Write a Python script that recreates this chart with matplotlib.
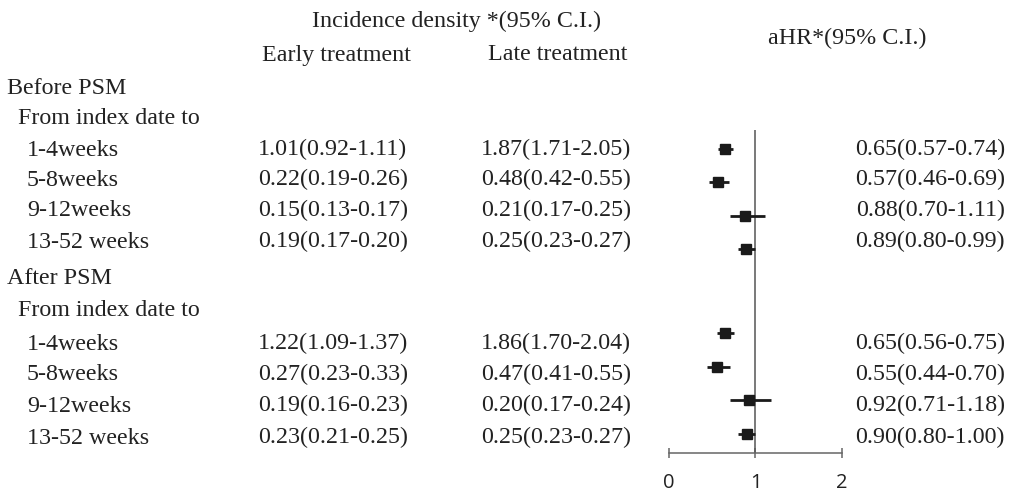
import matplotlib
matplotlib.use("Agg")
import matplotlib.pyplot as plt

# ---- data ----
sections = ["Before PSM", "After PSM"]
subheader = "From index date to"
periods = ["1-4weeks", "5-8weeks", "9-12weeks", "13-52 weeks"]

early_before = ["1.01(0.92-1.11)", "0.22(0.19-0.26)", "0.15(0.13-0.17)", "0.19(0.17-0.20)"]
late_before = ["1.87(1.71-2.05)", "0.48(0.42-0.55)", "0.21(0.17-0.25)", "0.25(0.23-0.27)"]
early_after = ["1.22(1.09-1.37)", "0.27(0.23-0.33)", "0.19(0.16-0.23)", "0.23(0.21-0.25)"]
late_after = ["1.86(1.70-2.04)", "0.47(0.41-0.55)", "0.20(0.17-0.24)", "0.25(0.23-0.27)"]

ahr_before = [0.65, 0.57, 0.88, 0.89]
lo_before = [0.57, 0.46, 0.70, 0.80]
hi_before = [0.74, 0.69, 1.11, 0.99]
ahr_after = [0.65, 0.55, 0.92, 0.90]
lo_after = [0.56, 0.44, 0.71, 0.80]
hi_after = [0.75, 0.70, 1.18, 1.00]

xticks = [0, 1, 2]

W, H = 1012, 495
fig = plt.figure(figsize=(W / 100, H / 100), dpi=100)

# text layer in pixel coordinates
tx = fig.add_axes([0, 0, 1, 1])
tx.set_xlim(0, W)
tx.set_ylim(H, 0)
tx.axis("off")

serif = "Liberation Serif"
fs = 17.3
col = "#222222"
off = 7.5  # baseline offset from visual centre

def put(x, yc, s, ha="left"):
    tx.text(x, yc + off, s, ha=ha, va="baseline", fontsize=fs, family=serif, color=col)

put(457, 20, "Incidence density *(95% C.I.)", ha="center")
put(336, 53, "Early treatment", ha="center")
put(558, 53, "Late treatment", ha="center")
put(847, 37, "aHR*(95% C.I.)", ha="center")

blocks = [
    (sections[0], 87, 117, [148, 178, 209, 240], early_before, late_before, ahr_before, lo_before, hi_before),
    (sections[1], 277, 308, [342, 373, 404, 436], early_after, late_after, ahr_after, lo_after, hi_after),
]

for sec, ys, yf, rows, e, l, a, lo, hi in blocks:
    put(7, ys, sec)
    put(18, yf, subheader)
    for y, p, ev, lv, av, lov, hiv in zip(rows, periods, e, l, a, lo, hi):
        put(27, y, p)
        put(258, y, ev)
        put(481, y, lv)
        put(1005, y, f"{av:.2f}({lov:.2f}-{hiv:.2f})", ha="right")

# forest plot
x0, x2 = 669, 842
ytop, ybot = 130, 453
fx = fig.add_axes([x0 / W, 1 - ybot / H, (x2 - x0) / W, (ybot - ytop) / H])
pos_before = [0, 1, 2, 3]
pos_after = [5.5, 6.5, 7.5, 8.5]
step = 33.5
fx.set_ylim((ybot - 149) / step, -(149 - ytop) / step)
fx.set_xlim(0, 2)

for pos, a, lo, hi in [(pos_before, ahr_before, lo_before, hi_before),
                       (pos_after, ahr_after, lo_after, hi_after)]:
    for p, av, lov, hiv in zip(pos, a, lo, hi):
        fx.plot([lov, hiv], [p, p], color="#1a1a1a", lw=2.0, solid_capstyle="butt", zorder=3)
        fx.plot([av], [p], marker="s", ms=7, color="#1a1a1a", mec="#1a1a1a", zorder=4)

fx.axvline(1, color="#555555", lw=1.1, zorder=2)
for s in ["top", "right", "left"]:
    fx.spines[s].set_visible(False)
fx.spines["bottom"].set_color("#666666")
fx.spines["bottom"].set_linewidth(1.1)
fx.set_yticks([])
fx.set_xticks(xticks)
fx.set_xticklabels([str(t) for t in xticks], family="Open Sans", fontsize=14.5, color=col)
fx.tick_params(axis="x", direction="inout", length=7, width=1.1, color="#666666", pad=11)
fx.patch.set_alpha(0)

fig.savefig("out.png", dpi=100)
